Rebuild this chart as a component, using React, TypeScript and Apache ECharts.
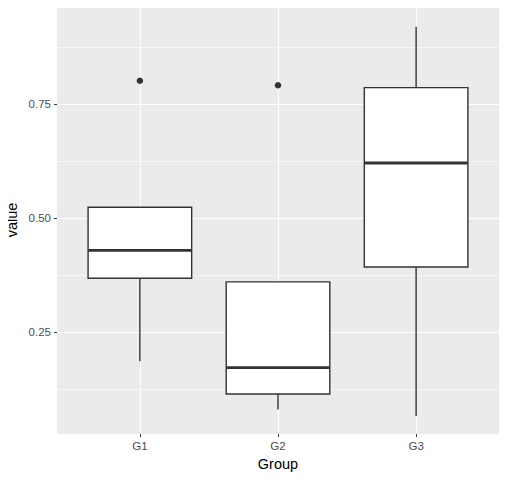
import React, { useEffect, useRef } from "react";
import * as echarts from "echarts";

const groups = ["G1", "G2", "G3"];
// [low whisker, Q1, median, Q3, high whisker]
const boxStats = [
  [0.186, 0.368, 0.429, 0.5235, 0.5235],
  [0.080, 0.114, 0.172, 0.360, 0.360],
  [0.066, 0.3925, 0.6206, 0.786, 0.9195],
];
const outliers = [
  [1, 0.801],
  [2, 0.791],
];
const yMajorTicks = [0.25, 0.5, 0.75];
const yMinorTicks = [0.125, 0.375, 0.625, 0.875];
const xTicks = [1, 2, 3];

export default function App() {
  const ref = useRef<HTMLDivElement>(null);
  useEffect(() => {
    if (!ref.current) return;
    const chart = echarts.init(ref.current, null, { renderer: "svg" });
    const font = "Liberation Sans, Arial, Helvetica, sans-serif";
    const yMin = 0.0263;
    const yMax = 0.9649;
    const boxData = boxStats.map((s, i) => [i + 1, ...s]);
    chart.setOption({
      animation: false,
      textStyle: { fontFamily: font },
      grid: {
        left: 57,
        right: 8,
        top: 6,
        bottom: 46,
        show: true,
        backgroundColor: "#EBEBEB",
        borderWidth: 0,
        containLabel: false,
        outerBoundsMode: "none",
      },
      xAxis: {
        type: "value",
        min: 0.4,
        max: 3.6,
        name: "Group",
        nameLocation: "middle",
        nameGap: 22,
        nameMoveOverlap: false,
        nameTextStyle: { color: "#000", fontSize: 14.5, fontFamily: font },
        axisLine: { show: false },
        axisTick: {
          show: true,
          customValues: xTicks,
          length: 3,
          lineStyle: { color: "#333333", width: 1 },
        },
        axisLabel: {
          customValues: xTicks,
          margin: 6,
          color: "#4D4D4D",
          fontSize: 11.5,
          fontFamily: font,
          formatter: (v: number) => groups[Math.round(v) - 1] ?? "",
        },
        splitLine: { show: true, lineStyle: { color: "#FFFFFF", width: 1.1 } },
      },
      yAxis: [
        {
          type: "value",
          min: yMin,
          max: yMax,
          name: "value",
          nameLocation: "middle",
          nameGap: 38,
          nameRotate: 90,
          nameMoveOverlap: false,
          nameTextStyle: { color: "#000", fontSize: 14.5, fontFamily: font },
          axisLine: { show: false },
          axisTick: {
            show: true,
            customValues: yMajorTicks,
            length: 3,
            lineStyle: { color: "#333333", width: 1 },
          },
          axisLabel: {
            customValues: yMajorTicks,
            margin: 6,
            color: "#4D4D4D",
            fontSize: 11.5,
            fontFamily: font,
            formatter: (v: number) => v.toFixed(2),
          },
          splitLine: { show: true, lineStyle: { color: "#FFFFFF", width: 1.1 } },
        },
        {
          type: "value",
          min: yMin,
          max: yMax,
          position: "left",
          axisLine: { show: false },
          axisTick: { show: false, customValues: yMinorTicks },
          axisLabel: { show: false, customValues: yMinorTicks },
          splitLine: { show: true, lineStyle: { color: "#FFFFFF", width: 0.55 } },
        },
      ],
      series: [
        {
          type: "custom",
          xAxisIndex: 0,
          yAxisIndex: 0,
          data: boxData,
          encode: { x: 0, y: [1, 2, 3, 4, 5] },
          z: 5,
          renderItem: (params: any, api: any) => {
            const x = api.value(0);
            const lo = api.value(1);
            const q1 = api.value(2);
            const med = api.value(3);
            const q3 = api.value(4);
            const hi = api.value(5);
            const hw = 0.375;
            const pLo = api.coord([x, lo]);
            const pQ1 = api.coord([x, q1]);
            const pQ3 = api.coord([x, q3]);
            const pHi = api.coord([x, hi]);
            const l = api.coord([x - hw, med]);
            const r = api.coord([x + hw, med]);
            const stroke = "#333333";
            const children: any[] = [];
            if (pLo[1] > pQ1[1] + 0.5) {
              children.push({
                type: "line",
                shape: { x1: pLo[0], y1: pLo[1], x2: pQ1[0], y2: pQ1[1] },
                style: { stroke, lineWidth: 1.4 },
              });
            }
            if (pHi[1] < pQ3[1] - 0.5) {
              children.push({
                type: "line",
                shape: { x1: pQ3[0], y1: pQ3[1], x2: pHi[0], y2: pHi[1] },
                style: { stroke, lineWidth: 1.4 },
              });
            }
            children.push({
              type: "rect",
              shape: { x: l[0], y: pQ3[1], width: r[0] - l[0], height: pQ1[1] - pQ3[1] },
              style: { fill: "#FFFFFF", stroke, lineWidth: 1.4 },
            });
            children.push({
              type: "line",
              shape: { x1: l[0], y1: l[1], x2: r[0], y2: r[1] },
              style: { stroke, lineWidth: 2.8 },
            });
            return { type: "group", children };
          },
        },
        {
          type: "scatter",
          xAxisIndex: 0,
          yAxisIndex: 0,
          data: outliers,
          symbol: "circle",
          symbolSize: 6.5,
          itemStyle: { color: "#333333", opacity: 1 },
          z: 6,
        },
      ],
    });
    return () => chart.dispose();
  }, []);
  return <div ref={ref} style={{ width: 507, height: 480, margin: -8 }} />;
}
